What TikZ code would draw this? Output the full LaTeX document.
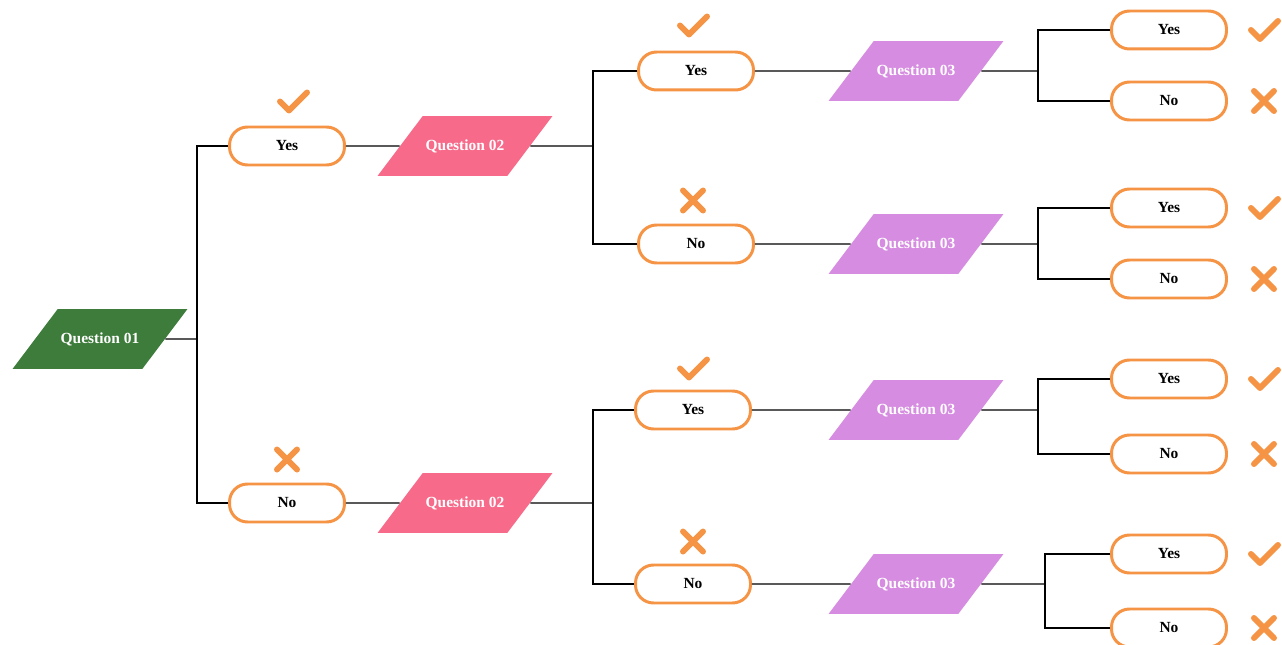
\documentclass[tikz,border=0pt]{standalone}
\usepackage{fontspec}
\setmainfont{Liberation Serif}
\usepackage{tikz}
\usetikzlibrary{shapes.geometric}
\usepackage{xcolor}
\definecolor{qgreen}{RGB}{62,124,60}
\definecolor{qpink}{RGB}{247,106,138}
\definecolor{qpurple}{RGB}{214,140,224}
\definecolor{ansorange}{RGB}{246,148,70}

\begin{document}
\begin{tikzpicture}[
    x=0.02cm, y=-0.02cm,
    question/.style={
        trapezium,
        trapezium left angle=53,
        trapezium right angle=127,
        trapezium stretches body=true,
        minimum width=3.5cm,
        text height=6.5pt,
        text depth=1.5pt,
        inner xsep=0pt,
        inner ysep=13.07pt,
        draw=none,
        text=white,
        font=\fontsize{8.8}{10}\selectfont\bfseries
    },
    qOne/.style={question, fill=qgreen},
    qTwo/.style={question, fill=qpink},
    qThree/.style={question, fill=qpurple},
    answer/.style={
        rectangle,
        rounded corners=0.36cm,
        minimum width=2.3cm,
        minimum height=0.76cm,
        draw=ansorange,
        line width=1.7pt,
        fill=white,
        font=\fontsize{8.8}{10}\selectfont\bfseries
    },
    link/.style={line width=0.7pt, black},
    markline/.style={ansorange, line width=3.4pt, line cap=round, line join=round},
    tickmark/.pic={\draw[markline] (-13,0) -- (-4,9) -- (14,-9);},
    crossmark/.pic={\draw[markline] (-10,-10) -- (10,10) (-10,10) -- (10,-10);}
]
\useasboundingbox (0,0) rectangle (1282,645);

% Level 1
\node[qOne] (q1) at (100,339) {Question 01};
\node[answer] (y1) at (287,146) {Yes};
\node[answer] (n1) at (287,503) {No};

% Level 2
\node[qTwo] (q2a) at (465,146) {Question 02};
\node[qTwo] (q2b) at (465,503) {Question 02};

\node[answer] (y2a) at (696,71) {Yes};
\node[answer] (n2a) at (696,244) {No};
\node[answer] (y2b) at (693,410) {Yes};
\node[answer] (n2b) at (693,584) {No};

% Level 3
\node[qThree] (q3a) at (916,71) {Question 03};
\node[qThree] (q3b) at (916,244) {Question 03};
\node[qThree] (q3c) at (916,410) {Question 03};
\node[qThree] (q3d) at (916,584) {Question 03};

\node[answer] (ya) at (1169,30) {Yes};
\node[answer] (na) at (1169,101) {No};
\node[answer] (yb) at (1169,208) {Yes};
\node[answer] (nb) at (1169,279) {No};
\node[answer] (yc) at (1169,379) {Yes};
\node[answer] (nc) at (1169,454) {No};
\node[answer] (yd) at (1169,554) {Yes};
\node[answer] (nd) at (1169,628) {No};

% Split points
\coordinate (s1) at (197,339);
\coordinate (s2a) at (593,146);
\coordinate (s2b) at (593,503);
\coordinate (s3a) at (1038,71);
\coordinate (s3b) at (1038,244);
\coordinate (s3c) at (1038,410);
\coordinate (s3d) at (1045,584);

% Connectors
\draw[link] (q1.east) -- (s1);
\draw[link] (y1.west) -| (s1);
\draw[link] (n1.west) -| (s1);
\draw[link] (y1.east) -- (q2a.west);
\draw[link] (n1.east) -- (q2b.west);

\draw[link] (q2a.east) -- (s2a);
\draw[link] (y2a.west) -| (s2a);
\draw[link] (n2a.west) -| (s2a);
\draw[link] (q2b.east) -- (s2b);
\draw[link] (y2b.west) -| (s2b);
\draw[link] (n2b.west) -| (s2b);

\draw[link] (y2a.east) -- (q3a.west);
\draw[link] (n2a.east) -- (q3b.west);
\draw[link] (y2b.east) -- (q3c.west);
\draw[link] (n2b.east) -- (q3d.west);

\draw[link] (q3a.east) -- (s3a);
\draw[link] (ya.west) -| (s3a);
\draw[link] (na.west) -| (s3a);
\draw[link] (q3b.east) -- (s3b);
\draw[link] (yb.west) -| (s3b);
\draw[link] (nb.west) -| (s3b);
\draw[link] (q3c.east) -- (s3c);
\draw[link] (yc.west) -| (s3c);
\draw[link] (nc.west) -| (s3c);
\draw[link] (q3d.east) -- (s3d);
\draw[link] (yd.west) -| (s3d);
\draw[link] (nd.west) -| (s3d);

% Marks
\pic at ([xshift=6*0.02cm, yshift=0.48cm]y1.north) {tickmark};
\pic at ([yshift=0.46cm]n1.north) {crossmark};
\pic at ([xshift=-3*0.02cm, yshift=0.5cm]y2a.north) {tickmark};
\pic at ([xshift=-3*0.02cm, yshift=0.46cm]n2a.north) {crossmark};
\pic at ([yshift=0.42cm]y2b.north) {tickmark};
\pic at ([yshift=0.44cm]n2b.north) {crossmark};

\foreach \leaf in {ya, yb, yc, yd}
    \pic at ([xshift=0.72cm]\leaf.east) {tickmark};
\foreach \leaf in {na, nb, nc, nd}
    \pic at ([xshift=0.72cm]\leaf.east) {crossmark};

\end{tikzpicture}
\end{document}
